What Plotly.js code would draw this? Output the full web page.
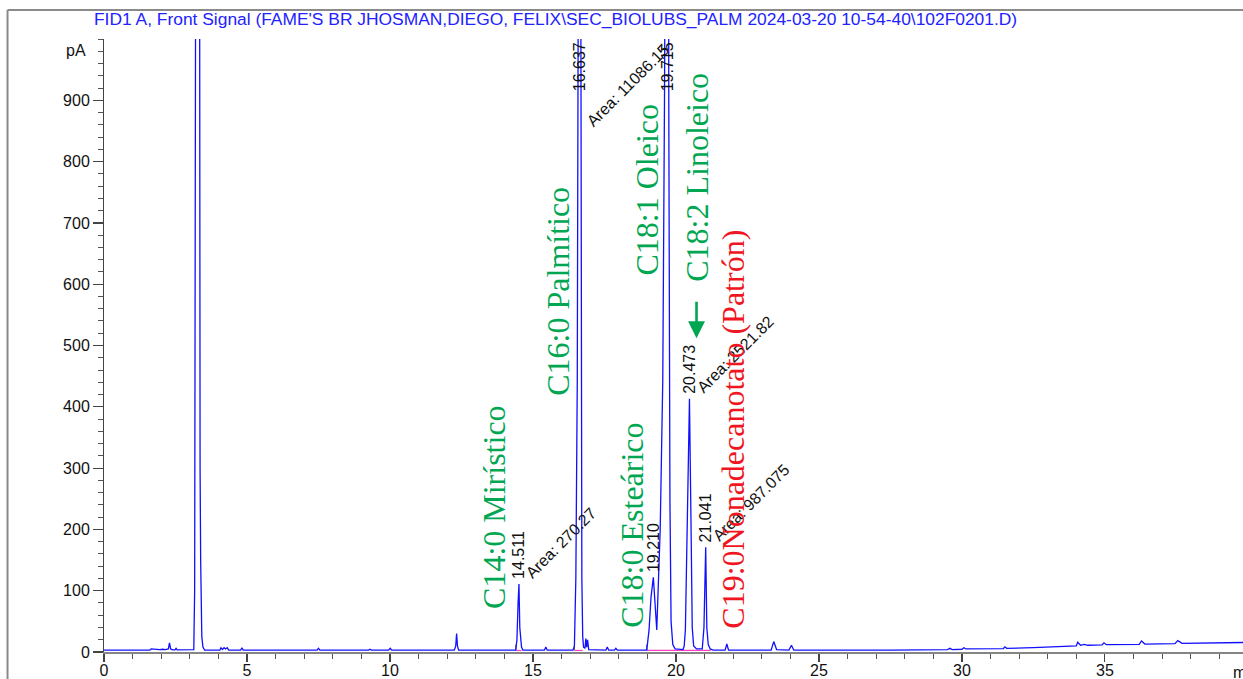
<!DOCTYPE html>
<html>
<head>
<meta charset="utf-8">
<script src="https://cdn.plot.ly/plotly-3.0.1.min.js"></script>
<style>
  html, body { margin: 0; padding: 0; background: #fff; overflow: hidden; }
  #chart { width: 1243px; height: 679px; }
</style>
</head>
<body>
<div id="chart"></div>
<script>
// FID1 A detector trace: retention time (min) and signal (pA)
const timeMin = [
  0.00, 1.60, 1.65, 1.75, 1.85, 1.95, 2.05, 2.15, 2.25, 2.29, 2.33, 2.40, 2.48, 2.52, 2.56,
  3.10, 3.14, 3.17, 3.20, 3.27, 3.33, 3.36, 3.38, 3.40, 3.42, 3.46, 3.52,
  4.05, 4.09, 4.14, 4.20, 4.25, 4.31, 4.36, 4.78, 4.82, 4.87,
  7.45, 7.50, 7.55, 9.25, 9.30, 9.35, 9.95, 10.01, 10.06,
  11.95, 12.05, 12.25, 12.30, 12.33, 12.36, 12.40,
  14.40, 14.44, 14.48, 14.511, 14.54, 14.57, 14.60, 14.65,
  15.40, 15.45, 15.50,
  16.40, 16.45, 16.50, 16.55, 16.60, 16.637, 16.67, 16.69, 16.71, 16.74, 16.77, 16.82, 16.85, 16.88, 16.91, 16.95,
  17.55, 17.60, 17.65, 17.85, 17.90, 17.95,
  18.98, 19.06, 19.13, 19.210, 19.27, 19.33, 19.45, 19.54, 19.60, 19.65, 19.715, 19.75, 19.79, 19.83, 19.89, 19.97,
  20.25, 20.29, 20.33, 20.40, 20.473, 20.53, 20.57, 20.62, 20.72,
  20.92, 20.98, 21.041, 21.08, 21.13, 21.20, 21.30,
  21.72, 21.78, 21.84, 23.33, 23.42, 23.52, 23.95, 24.04, 24.12,
  27.50, 28.50, 29.50, 29.58, 29.66, 30.00, 30.07, 30.14, 31.00, 31.45, 31.50, 31.57,
  32.50, 33.50, 34.00, 34.05, 34.15, 34.28, 34.40, 34.90, 34.97, 35.05,
  36.20, 36.28, 36.40, 37.45, 37.55, 37.70, 38.50, 39.83
];
const signalPA = [
  3, 3, 5, 4.5, 5, 4, 4.5, 4, 5, 15, 5, 3.5, 3.5, 6, 3.5,
  3, 4, 100, 1000, 5000, 1000, 300, 150, 60, 25, 8, 3,
  3, 7, 4, 7, 5, 7, 3, 3, 7, 3,
  3, 6, 3, 3, 4.5, 3, 3, 6, 3,
  3, 2, 3, 10, 30, 10, 3,
  3, 20, 80, 111, 40, 20, 8, 3,
  3, 8, 3,
  3, 10, 120, 440, 1400, 2600, 1200, 340, 120, 25, 8, 6, 22, 8, 20, 4,
  3, 8, 3, 3, 6, 3,
  3, 36, 90, 122, 70, 36, 200, 444, 900, 1500, 2200, 900, 250, 50, 12, 5,
  4, 10, 36, 220, 413, 200, 40, 10, 5,
  5, 40, 171, 40, 12, 5, 3,
  3, 13, 3, 3, 17, 4, 3, 11, 3,
  3, 3.5, 4, 6, 4, 4.5, 7, 5, 5, 5.5, 8.5, 6,
  7, 9, 10, 16, 11, 12.5, 11, 11.5, 15, 12,
  12.5, 18, 13, 13.5, 18.5, 14, 14.5, 15.5
];

// Integration baselines under the quantified peaks
const baselineTime = [14.42, 14.60, null, 16.45, 16.74, null, 18.98, 21.22];
const baselinePA   = [2.5, 2.5, null, 2.5, 2.5, null, 2.5, 2.5];

// Peak start markers
const markerTime = [14.40, 14.40, null, 16.45, 16.45, null, 18.98, 18.98];
const markerPA   = [3, 12, null, 3, 12, null, 3, 12];

// Labelled peaks
const peakTimes = [14.511, 16.637, 19.210, 19.715, 20.473, 21.041];
const areaPeakTimes = [14.511, 16.637, 20.473, 21.041];
const areaValues = ['270.27', '11086.15', '2521.82', '987.075'];

// Fatty acid methyl ester assignments
const compoundNames = [
  'C14:0 Mirístico', 'C16:0 Palmítico', 'C18:0 Esteárico',
  'C18:1 Oleico', 'C18:2 Linoleico', 'C19:0Nonadecanotato (Patrón)'
];

const xTickVals = [0, 5, 10, 15, 20, 25, 30, 35];
const yTickVals = [0, 100, 200, 300, 400, 500, 600, 700, 800, 900];

const titleText = "FID1 A, Front Signal (FAME'S BR JHOSMAN,DIEGO, FELIX\\SEC_BIOLUBS_PALM 2024-03-20 10-54-40\\102F0201.D)";

const Y_MAX = 1000;
const SANS = 'Liberation Sans, Arial, sans-serif';
const SERIF = 'Liberation Serif, Times New Roman, serif';
const GREEN = '#00a651';
const RED = '#f01520';

function apexOf(t) {
  const i = timeMin.indexOf(t);
  return signalPA[i];
}

const traces = [
  { x: baselineTime, y: baselinePA, mode: 'lines', line: { color: '#ff40c0', width: 1.2 }, hoverinfo: 'skip', connectgaps: false },
  { x: markerTime, y: markerPA, mode: 'lines', line: { color: '#555', width: 1 }, hoverinfo: 'skip', connectgaps: false },
  { x: timeMin, y: signalPA, mode: 'lines', line: { color: '#1010ff', width: 1.3 }, hoverinfo: 'x+y' }
];

const annotations = [];

// Title of the signal
annotations.push({
  xref: 'paper', yref: 'paper', x: -0.0105, y: 1.032, xanchor: 'left', yanchor: 'middle',
  text: titleText, showarrow: false, font: { family: SANS, size: 17.4, color: '#2222ff' }
});
// Axis units
annotations.push({
  xref: 'paper', yref: 'y', x: -0.0144, y: 982, xanchor: 'right', yanchor: 'middle',
  text: 'pA', showarrow: false, font: { family: SANS, size: 16, color: '#111' }
});
annotations.push({
  xref: 'x', yref: 'paper', x: 39.41, y: -0.034, xanchor: 'left', yanchor: 'middle',
  text: 'min', showarrow: false, font: { family: SANS, size: 16, color: '#111' }
});

// Retention time labels above each apex
peakTimes.forEach(t => {
  const h = apexOf(t);
  const off = h >= Y_MAX;
  annotations.push({
    x: t, y: off ? Y_MAX : h, xanchor: 'center', yanchor: off ? 'top' : 'bottom',
    yshift: off ? -1 : 3, textangle: -90, showarrow: false,
    text: t.toFixed(3), font: { family: SANS, size: 16, color: '#111' }
  });
});

// Area labels, slanted
areaPeakTimes.forEach((t, i) => {
  const h = apexOf(t);
  annotations.push({
    x: t, y: h >= Y_MAX ? 847 : h, xanchor: 'left', yanchor: 'bottom',
    xshift: 1, textangle: -45, showarrow: false,
    text: 'Area: ' + areaValues[i], font: { family: SANS, size: 16, color: '#111' }
  });
});

// Compound names
const nameSpots = [
  { x: 13.66, y: 236, c: GREEN }, { x: 15.87, y: 589, c: GREEN }, { x: 18.45, y: 207, c: GREEN },
  { x: 18.98, y: 754, c: GREEN }, { x: 20.73, y: 775, c: GREEN }, { x: 21.99, y: 364, c: RED }
];
compoundNames.forEach((n, i) => {
  annotations.push({
    x: nameSpots[i].x, y: nameSpots[i].y, xanchor: 'center', yanchor: 'middle',
    textangle: -90, showarrow: false, text: n,
    font: { family: SERIF, size: 32, color: nameSpots[i].c }
  });
});

// Marker arrow pointing at the C18:2 peak
annotations.push({
  x: 20.72, y: 512, ax: 0, ay: -38, showarrow: true, text: '',
  arrowhead: 2, arrowsize: 1.3, arrowwidth: 2.6, arrowcolor: GREEN
});

const frame = { color: '#8a8a8a', width: 2 };
const shapes = [
  { type: 'line', xref: 'paper', yref: 'paper', x0: -0.0847, x1: -0.0847, y0: 1.0473, y1: -0.06, line: frame },
  { type: 'line', xref: 'paper', yref: 'paper', x0: -0.0847, x1: 1.01, y0: 1.0473, y1: 1.0473, line: frame }
];

const layout = {
  width: 1243, height: 679,
  margin: { l: 104.4, r: 0, t: 39, b: 27 },
  paper_bgcolor: '#fff', plot_bgcolor: '#fff',
  showlegend: false,
  xaxis: {
    range: [0, 39.83], showgrid: false, zeroline: false,
    showline: true, linecolor: '#858585', linewidth: 2,
    tickmode: 'array', tickvals: xTickVals, ticktext: xTickVals.map(String),
    ticks: 'outside', ticklen: 8, tickwidth: 1.2, tickcolor: '#444',
    ticklabelstandoff: -5,
    minor: { tickmode: 'linear', tick0: 0, dtick: 1, ticks: 'outside', ticklen: 5, tickwidth: 1, tickcolor: '#555' },
    tickfont: { family: SANS, size: 16, color: '#111' }
  },
  yaxis: {
    range: [0, Y_MAX], showgrid: false, zeroline: false,
    showline: true, linecolor: '#444', linewidth: 1,
    tickmode: 'array', tickvals: yTickVals, ticktext: yTickVals.map(String),
    ticks: 'outside', ticklen: 10, tickwidth: 1.2, tickcolor: '#444',
    minor: { tickmode: 'linear', tick0: 0, dtick: 20, ticks: 'outside', ticklen: 5, tickwidth: 1, tickcolor: '#555' },
    tickfont: { family: SANS, size: 16, color: '#111' }
  },
  annotations: annotations,
  shapes: shapes
};

Plotly.newPlot('chart', traces, layout, { staticPlot: true, displayModeBar: false });
</script>
</body>
</html>
